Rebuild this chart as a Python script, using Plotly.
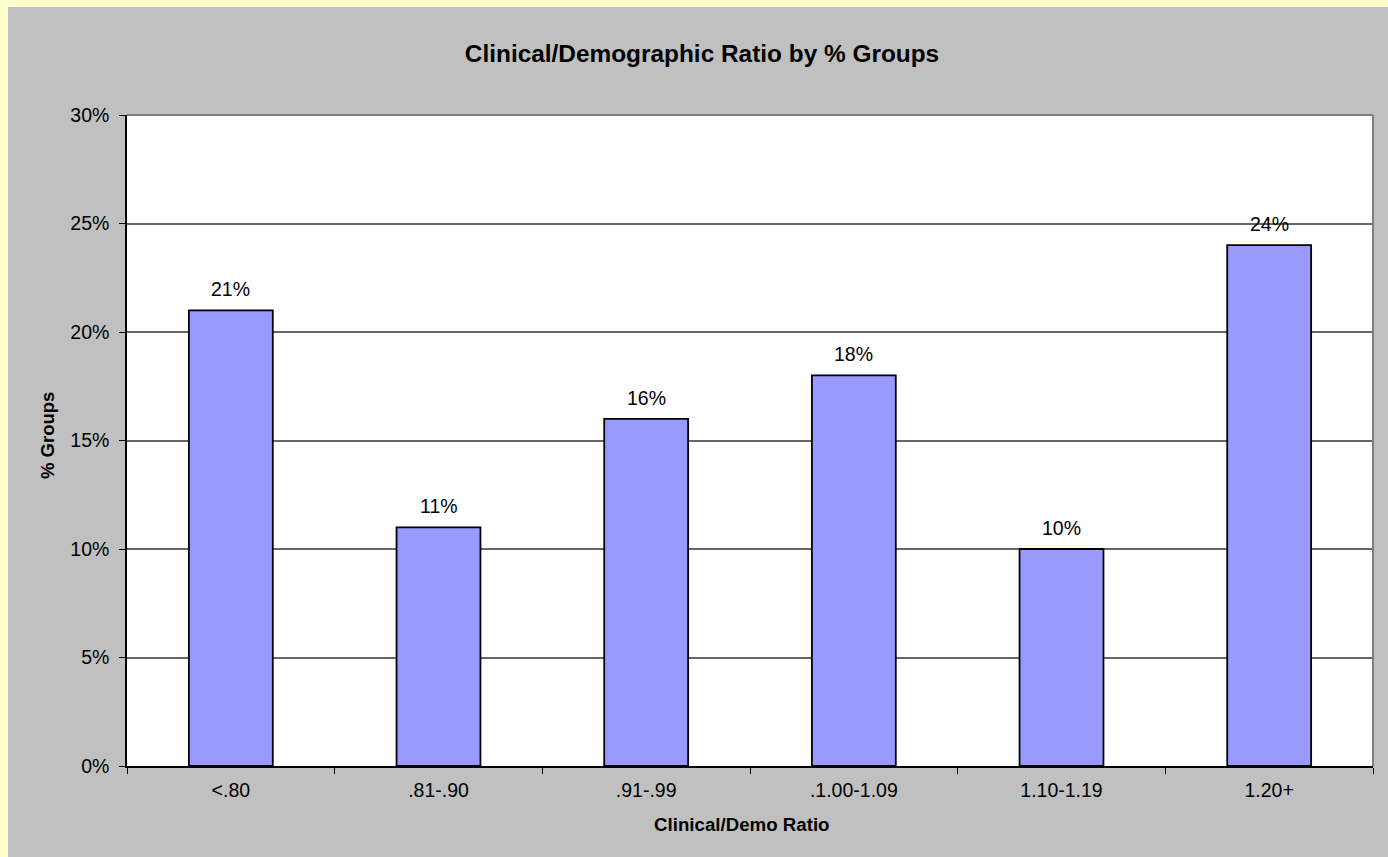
import plotly.graph_objects as go

categories = ["<.80", ".81-.90", ".91-.99", ".1.00-1.09", "1.10-1.19", "1.20+"]
pct_groups = [21, 11, 16, 18, 10, 24]
label_texts = ["21%", "11%", "16%", "18%", "10%", "24%"]

W, H = 1388, 857
L, R, T, B = 127, 15, 115, 91
PW, PH = W - L - R, H - T - B

FONT = "Liberation Sans, Arial, sans-serif"

fig = go.Figure()
fig.add_trace(go.Bar(
    x=categories, y=pct_groups,
    marker=dict(color="#9999FF", line=dict(color="black", width=1.8)),
    hoverinfo="skip",
))

# data labels
for c, v, t in zip(categories, pct_groups, label_texts):
    fig.add_annotation(x=c, y=v, xref="x", yref="y", text=t, showarrow=False,
                       yanchor="bottom", yshift=8,
                       font=dict(family=FONT, size=19.5, color="black"))

def px_x(px):
    return (px - L) / PW

def px_y(py):
    return (H - B - py) / PH

shapes = [
    # yellow page strips
    dict(type="rect", xref="paper", yref="paper", x0=-0.3, x1=px_x(8), y0=-0.5, y1=1.5,
         fillcolor="#FFFFCC", line=dict(width=0), layer="below"),
    dict(type="rect", xref="paper", yref="paper", x0=-0.3, x1=1.3, y0=px_y(7), y1=1.5,
         fillcolor="#FFFFCC", line=dict(width=0), layer="below"),
    # plot area top / right border
    dict(type="line", xref="paper", yref="paper", x0=0, x1=1, y0=1, y1=1,
         line=dict(color="#808080", width=2), layer="above"),
    dict(type="line", xref="paper", yref="paper", x0=1, x1=1, y0=0, y1=1,
         line=dict(color="#808080", width=2), layer="above"),
]

fig.add_annotation(xref="paper", yref="paper", x=px_x(47), y=px_y(436), text="<b>% Groups</b>",
                   textangle=-90, showarrow=False, xanchor="center", yanchor="middle",
                   font=dict(family=FONT, size=18.5, color="black"))
fig.add_annotation(xref="paper", yref="paper", x=px_x(742), y=px_y(824), text="<b>Clinical/Demo Ratio</b>",
                   showarrow=False, xanchor="center", yanchor="middle",
                   font=dict(family=FONT, size=18.7, color="black"))

fig.update_layout(
    width=W, height=H,
    margin=dict(l=L, r=R, t=T, b=B, pad=0),
    paper_bgcolor="#C0C0C0",
    plot_bgcolor="white",
    showlegend=False,
    bargap=0.596,
    shapes=shapes,
    title=dict(text="<b>Clinical/Demographic Ratio by % Groups</b>",
               x=702 / W, xref="container", xanchor="center",
               y=1 - 53 / H, yref="container", yanchor="middle",
               font=dict(family=FONT, size=24.4, color="black")),
    font=dict(family=FONT, color="black"),
)

fig.update_xaxes(
    type="category", showgrid=False, showline=True, linecolor="black", linewidth=1.5,
    ticks="outside", tickson="boundaries", ticklen=6, tickcolor="black", tickwidth=1,
    tickfont=dict(family=FONT, size=19.5, color="black"), ticklabelstandoff=6,
    zeroline=False,
)
fig.update_yaxes(
    range=[0, 30], dtick=5, ticksuffix="%", showgrid=True, gridcolor="#666666", gridwidth=1.5,
    showline=True, linecolor="black", linewidth=1.5,
    ticks="outside", ticklen=6, tickcolor="black", tickwidth=1,
    tickfont=dict(family=FONT, size=19.5, color="black"), ticklabelstandoff=6,
    zeroline=False,
)

fig.write_html("out.html")
